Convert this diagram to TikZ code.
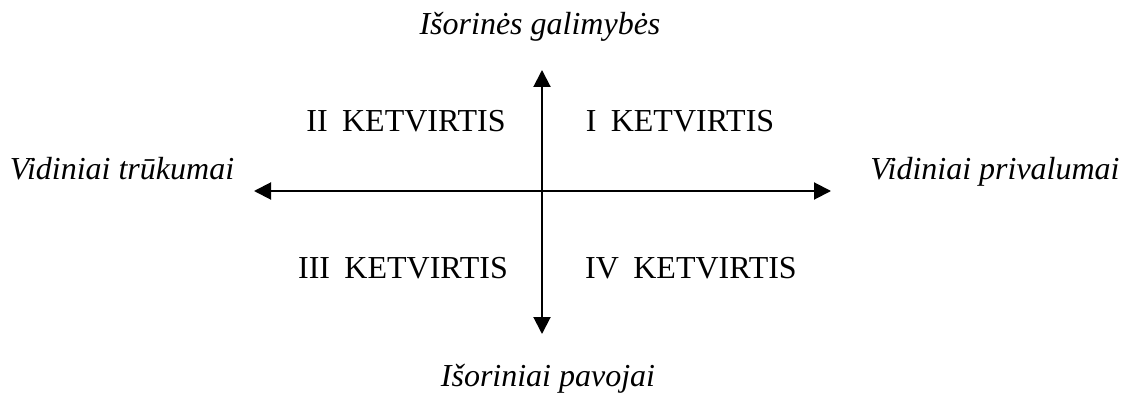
\documentclass[tikz,border=0pt]{standalone}
\usepackage{fontspec}
\setmainfont{Liberation Serif}
\usetikzlibrary{arrows.meta}
\tikzset{
  axis/.style={line width=2pt,{Triangle[length=17pt,width=17pt]}-{Triangle[length=17pt,width=17pt]}},
  lbl/.style={inner sep=0pt,font=\fontsize{32}{38}\selectfont\itshape,anchor=base},
  quad/.style={inner sep=0pt,font=\fontsize{32}{38}\selectfont,anchor=base}
}
\begin{document}
\begin{tikzpicture}[x=1pt,y=-1pt]
\useasboundingbox (0,0) rectangle (1129,403);
\coordinate (top) at (542,70);
\coordinate (bot) at (542,334);
\coordinate (lft) at (254,191);
\coordinate (rgt) at (831,191);
\draw[axis] (top) -- (bot);
\draw[axis] (lft) -- (rgt);
\node[lbl] (op) at (540,35) {Išorinės galimybės};
\node[lbl] (th) at (548,386) {Išoriniai pavojai};
\node[lbl] (wk) at (122,180) {Vidiniai trūkumai};
\node[lbl] (st) at (995,180) {Vidiniai privalumai};
\node[quad] (q2) at (406,132) {II\hspace{0.45em}KETVIRTIS};
\node[quad] (q1) at (680,132) {I\hspace{0.45em}KETVIRTIS};
\node[quad] (q3) at (403,278) {III\hspace{0.45em}KETVIRTIS};
\node[quad] (q4) at (691,278) {IV\hspace{0.45em}KETVIRTIS};
\end{tikzpicture}
\end{document}
